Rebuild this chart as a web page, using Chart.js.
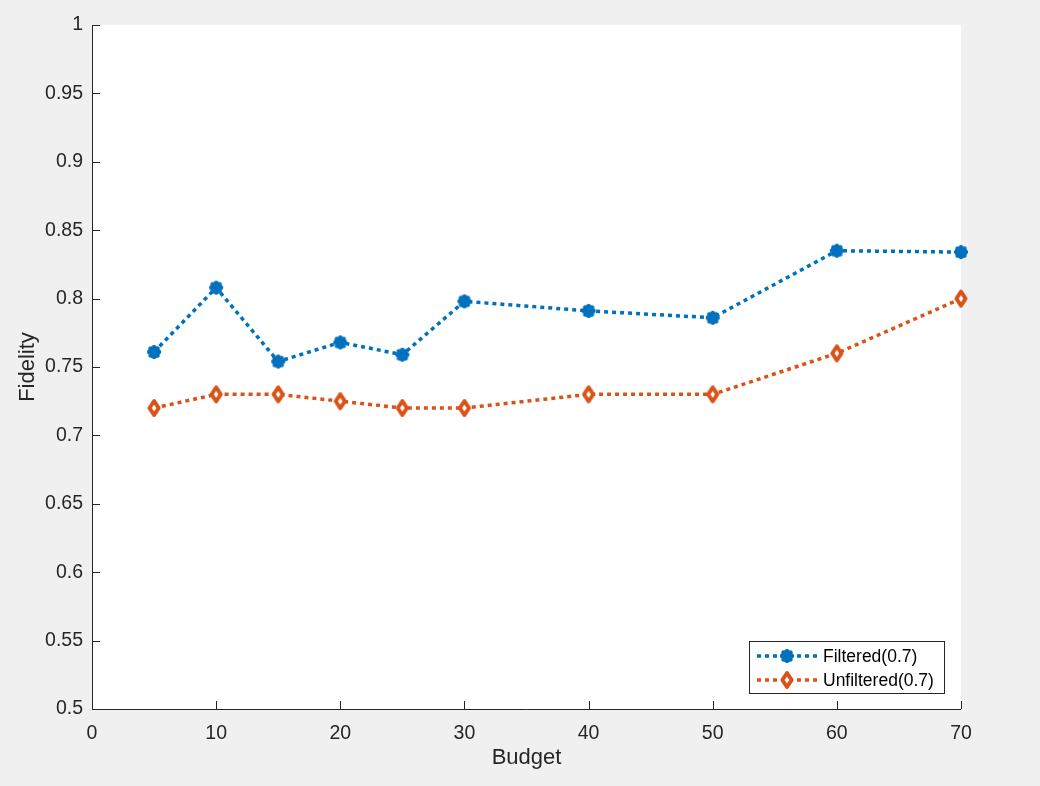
<!DOCTYPE html>
<html>
<head>
<meta charset="utf-8">
<script src="https://cdn.jsdelivr.net/npm/chart.js@4"></script>
<style>
  html,body{margin:0;padding:0;background:#f0f0f0;}
  #wrap{width:1040px;height:786px;}
</style>
</head>
<body>
<div id="wrap"><canvas id="c" width="1040" height="786"></canvas></div>
<script>
const budgets = [5, 10, 15, 20, 25, 30, 40, 50, 60, 70];
const filtered = [0.761, 0.808, 0.754, 0.768, 0.759, 0.798, 0.791, 0.786, 0.835, 0.834];
const unfiltered = [0.720, 0.730, 0.730, 0.725, 0.720, 0.720, 0.730, 0.730, 0.760, 0.800];
const xTicks = [0, 10, 20, 30, 40, 50, 60, 70];
const yTicks = [0.5, 0.55, 0.6, 0.65, 0.7, 0.75, 0.8, 0.85, 0.9, 0.95, 1];
const yTickLabels = ['0.5','0.55','0.6','0.65','0.7','0.75','0.8','0.85','0.9','0.95','1'];
const seriesNames = ['Filtered(0.7)', 'Unfiltered(0.7)'];

const FONT = '"Liberation Sans", Arial, Helvetica, sans-serif';
const AX = '#262626';
const BLUE = '#0072BD';
const ORANGE = '#D95319';

function makeStar(color) {
  const c = document.createElement('canvas');
  c.width = 20; c.height = 20;
  const g = c.getContext('2d');
  const cx = 10, cy = 10, r = 7;
  g.strokeStyle = color; g.fillStyle = color;
  g.lineWidth = 3; g.lineCap = 'butt';
  g.beginPath();
  for (let k = 0; k < 4; k++) {
    const a = k * Math.PI / 4;
    g.moveTo(cx - r * Math.cos(a), cy - r * Math.sin(a));
    g.lineTo(cx + r * Math.cos(a), cy + r * Math.sin(a));
  }
  g.stroke();
  g.beginPath(); g.arc(cx, cy, 6.3, 0, Math.PI * 2); g.fill();
  return c;
}
function makeDiamond(color) {
  const c = document.createElement('canvas');
  c.width = 20; c.height = 24;
  const g = c.getContext('2d');
  const cx = 10, cy = 12, hw = 4.6, hh = 7;
  g.beginPath();
  g.moveTo(cx, cy - hh); g.lineTo(cx + hw, cy); g.lineTo(cx, cy + hh); g.lineTo(cx - hw, cy); g.closePath();
  g.fillStyle = '#ffffff'; g.fill();
  g.strokeStyle = color; g.lineWidth = 4; g.lineJoin = 'round';
  g.stroke();
  return c;
}
const starImg = makeStar(BLUE);
const diamondImg = makeDiamond(ORANGE);

const bgPlugin = {
  id: 'bg',
  beforeDraw(chart) {
    const {ctx, chartArea: a} = chart;
    ctx.save();
    ctx.fillStyle = '#f0f0f0';
    ctx.fillRect(0, 0, chart.width, chart.height);
    ctx.fillStyle = '#ffffff';
    ctx.fillRect(a.left, a.top, a.right - a.left, a.bottom - a.top);
    ctx.restore();
  },
  beforeDatasetsDraw(chart) {
    const {ctx, chartArea: a, scales} = chart;
    ctx.save();
    ctx.strokeStyle = AX;
    ctx.lineWidth = 1;
    ctx.beginPath();
    ctx.moveTo(a.left + 0.5, a.top);
    ctx.lineTo(a.left + 0.5, a.bottom + 0.5);
    ctx.lineTo(a.right, a.bottom + 0.5);
    ctx.stroke();
    ctx.beginPath();
    yTicks.forEach(v => {
      const y = Math.round(scales.y.getPixelForValue(v)) + 0.5;
      ctx.moveTo(a.left, y); ctx.lineTo(a.left + 8, y);
    });
    xTicks.forEach(v => {
      const x = Math.round(scales.x.getPixelForValue(v)) + 0.5;
      ctx.moveTo(x, a.bottom); ctx.lineTo(x, a.bottom - 8);
    });
    ctx.stroke();
    ctx.restore();
  },
  afterDatasetsDraw(chart) {
    const {ctx} = chart;
    ctx.save();
    const lx = 749, ly = 641, lw = 195, lh = 52;
    ctx.fillStyle = '#ffffff';
    ctx.fillRect(lx, ly, lw, lh);
    ctx.strokeStyle = AX;
    ctx.lineWidth = 1;
    ctx.strokeRect(lx + 0.5, ly + 0.5, lw, lh);
    const rows = [656, 680];
    chart.data.datasets.forEach((ds, i) => {
      const y = rows[i];
      ctx.save();
      ctx.strokeStyle = ds.borderColor;
      ctx.lineWidth = ds.borderWidth;
      ctx.setLineDash(ds.borderDash);
      ctx.beginPath();
      ctx.moveTo(757, y); ctx.lineTo(817, y);
      ctx.stroke();
      ctx.setLineDash([]);
      Chart.helpers.drawPoint(ctx, {pointStyle: ds.pointStyle, radius: 8, borderWidth: 0, rotation: 0}, 787, y);
      ctx.restore();
      ctx.fillStyle = '#000000';
      ctx.font = '17.5px ' + FONT;
      ctx.textAlign = 'left';
      ctx.textBaseline = 'middle';
      ctx.fillText(ds.label, 823, y + 1);
    });
    ctx.restore();
  }
};

new Chart(document.getElementById('c'), {
  type: 'line',
  data: {
    datasets: [
      {
        label: seriesNames[0],
        data: budgets.map((b, i) => ({x: b, y: filtered[i]})),
        borderColor: BLUE,
        borderWidth: 3.5,
        borderDash: [4, 4],
        borderCapStyle: 'butt',
        pointStyle: starImg,
        pointRadius: 8,
        clip: false,
        tension: 0
      },
      {
        label: seriesNames[1],
        data: budgets.map((b, i) => ({x: b, y: unfiltered[i]})),
        borderColor: ORANGE,
        borderWidth: 3.5,
        borderDash: [4, 4],
        borderCapStyle: 'butt',
        pointStyle: diamondImg,
        pointRadius: 8,
        clip: false,
        tension: 0
      }
    ]
  },
  options: {
    responsive: false,
    animation: false,
    devicePixelRatio: 1,
    layout: {padding: {left: 0, top: 25, right: 79, bottom: 0}},
    plugins: {legend: {display: false}, tooltip: {enabled: false}},
    scales: {
      x: {
        type: 'linear', min: 0, max: 70,
        afterBuildTicks(s) { s.ticks = xTicks.map(v => ({value: v})); },
        afterFit(s) { s.height = 77; },
        grid: {display: false, drawTicks: false},
        border: {display: false},
        ticks: {color: AX, font: {family: FONT, size: 19.5}, padding: 13, maxRotation: 0},
        title: {display: true, text: 'Budget', color: AX, font: {family: FONT, size: 22}, padding: {top: 0, bottom: 15}}
      },
      y: {
        type: 'linear', min: 0.5, max: 1,
        afterBuildTicks(s) { s.ticks = yTicks.map(v => ({value: v})); },
        afterFit(s) { s.width = 92; },
        grid: {display: false, drawTicks: false},
        border: {display: false},
        ticks: {color: AX, font: {family: FONT, size: 19.5}, padding: 9,
          callback: (v) => { const i = yTicks.findIndex(t => Math.abs(t - v) < 1e-9); return i >= 0 ? yTickLabels[i] : ''; }},
        title: {display: true, text: 'Fidelity', color: AX, font: {family: FONT, size: 22}, padding: {top: 15, bottom: 0}}
      }
    }
  },
  plugins: [bgPlugin]
});
</script>
</body>
</html>
